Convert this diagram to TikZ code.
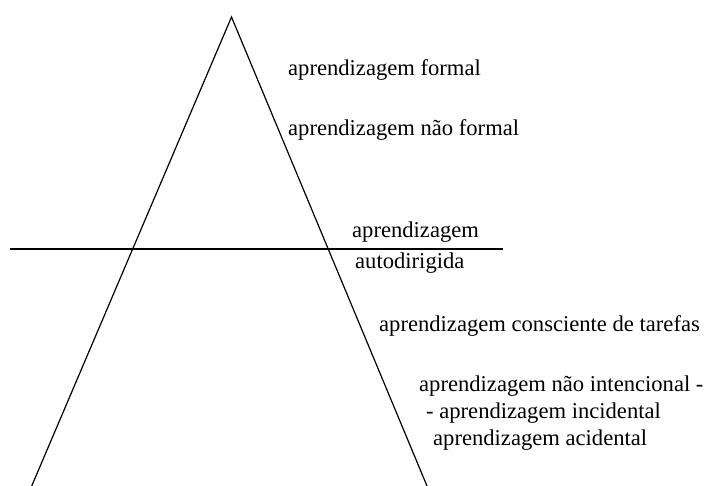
\documentclass[tikz,border=0pt]{standalone}
\usepackage{fontspec}
\setmainfont{Liberation Serif}
\begin{document}
\begin{tikzpicture}[x=1pt,y=-1pt,
  lbl/.style={anchor=base west,inner sep=0pt,font=\fontsize{22.6}{27}\selectfont},
  edge/.style={line width=1.2pt,black}]
\useasboundingbox (0,0) rectangle (708,486);
\coordinate (apex) at (231.5,17);
\coordinate (bl) at (31.7,486);
\coordinate (br) at (427,486);
\coordinate (hl) at (10,249);
\coordinate (hr) at (503,249);
\draw[edge] (bl) -- (apex) -- (br);
\draw[edge] (hl) -- (hr);
\node[lbl] (t1) at (288,76) {aprendizagem formal};
\node[lbl] (t2) at (288,136) {aprendizagem não formal};
\node[lbl] (t3) at (352,237) {aprendizagem};
\node[lbl] (t4) at (355,268) {autodirigida};
\node[lbl] (t5) at (379,331) {aprendizagem consciente de tarefas};
\node[lbl] (t6) at (419,391) {aprendizagem não intencional -};
\node[lbl] (t7) at (426,418) {- aprendizagem incidental};
\node[lbl] (t8) at (433,445) {aprendizagem acidental};
\end{tikzpicture}
\end{document}
